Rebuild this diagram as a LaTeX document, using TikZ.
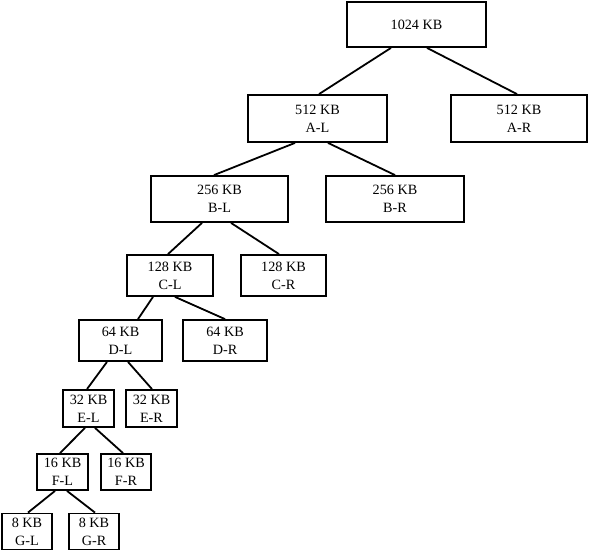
\documentclass[tikz,border=0pt]{standalone}
\usepackage{fontspec}
\setmainfont{Liberation Serif}
\begin{document}
\begin{tikzpicture}[x=1pt,y=-1pt,
  blk/.style={draw=black,line width=1.8pt,rectangle,inner sep=0pt,align=center,
    font=\fontsize{14.2}{17.8}\selectfont},
  lnk/.style={line width=1.8pt,draw=black}]
\useasboundingbox (0,0) rectangle (590,551);
\node[blk,minimum width=139,minimum height=45] (root) at (416.5,24.5) {1024 KB};
\node[blk,minimum width=139,minimum height=47] (AL) at (317.5,118.5) {512 KB\\A-L};
\node[blk,minimum width=136,minimum height=47] (AR) at (519,118.5) {512 KB\\A-R};
\node[blk,minimum width=137,minimum height=46] (BL) at (219.5,199) {256 KB\\B-L};
\node[blk,minimum width=138,minimum height=46] (BR) at (395,199) {256 KB\\B-R};
\node[blk,minimum width=86,minimum height=41] (CL) at (170,275.5) {128 KB\\C-L};
\node[blk,minimum width=85,minimum height=41] (CR) at (283.5,275.5) {128 KB\\C-R};
\node[blk,minimum width=83,minimum height=41] (DL) at (120.5,340.5) {64 KB\\D-L};
\node[blk,minimum width=84,minimum height=41] (DR) at (225,340.5) {64 KB\\D-R};
\node[blk,minimum width=51,minimum height=37] (EL) at (88.5,408.5) {32 KB\\E-L};
\node[blk,minimum width=51,minimum height=37] (ER) at (151.5,408.5) {32 KB\\E-R};
\node[blk,minimum width=51,minimum height=36] (FL) at (62.5,472) {16 KB\\F-L};
\node[blk,minimum width=50,minimum height=36] (FR) at (126,472) {16 KB\\F-R};
\node[blk,minimum width=50,minimum height=36] (GL) at (27,531.5) {8 KB\\G-L};
\node[blk,minimum width=50,minimum height=36] (GR) at (94,531.5) {8 KB\\G-R};
\draw[lnk] ([xshift=-25.5]root.south) -- ([xshift=1.5]AL.north);
\draw[lnk] ([xshift=10.5]root.south) -- ([xshift=-2]AR.north);
\draw[lnk] ([xshift=-22.5]AL.south) -- ([xshift=-5.5]BL.north);
\draw[lnk] ([xshift=10.5]AL.south) -- ([xshift=0]BR.north);
\draw[lnk] ([xshift=-17.5]BL.south) -- ([xshift=-2]CL.north);
\draw[lnk] ([xshift=11.5]BL.south) -- ([xshift=-4.5]CR.north);
\draw[lnk] ([xshift=-17]CL.south) -- ([xshift=17.5]DL.north);
\draw[lnk] ([xshift=5]CL.south) -- ([xshift=0]DR.north);
\draw[lnk] ([xshift=-13.5]DL.south) -- ([xshift=-1.5]EL.north);
\draw[lnk] ([xshift=7.5]DL.south) -- ([xshift=0.5]ER.north);
\draw[lnk] ([xshift=-3.5]EL.south) -- ([xshift=-2.5]FL.north);
\draw[lnk] ([xshift=6.5]EL.south) -- ([xshift=-3]FR.north);
\draw[lnk] ([xshift=-7.5]FL.south) -- ([xshift=1]GL.north);
\draw[lnk] ([xshift=4.5]FL.south) -- ([xshift=1]GR.north);
\end{tikzpicture}
\end{document}
